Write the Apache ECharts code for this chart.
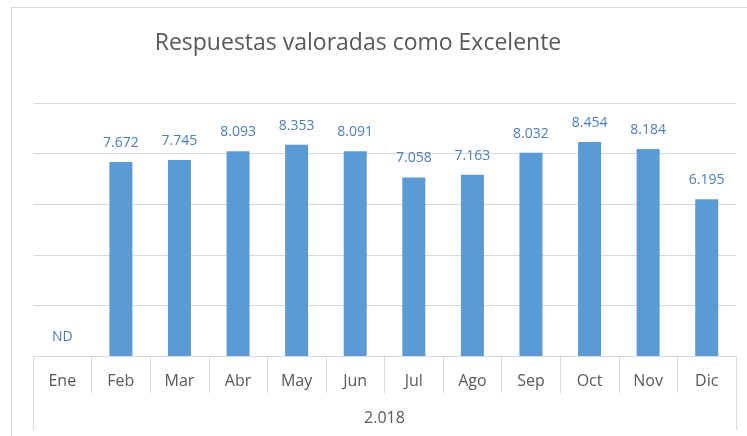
<!DOCTYPE html>
<html>
<head>
<meta charset="utf-8">
<script src="https://cdn.jsdelivr.net/npm/echarts@6/dist/echarts.min.js"></script>
<style>
  html, body { margin: 0; padding: 0; background: #fff; }
  .com-container { position: relative; width: 747px; height: 436px; overflow: hidden; }
  .frame { position: absolute; left: 11px; top: 7px; width: 760px; height: 460px; border: 1px solid #d9d9d9; box-sizing: border-box; }
  .com-chart { position: absolute; left: 0; top: 0; width: 747px; height: 436px; }
</style>
</head>
<body>
<div class="com-container">
  <div class="frame"></div>
  <div class="com-chart" id="chart"></div>
</div>
<script>
// meses y valores (null = sin dato, se muestra "ND")
const months = ['Ene', 'Feb', 'Mar', 'Abr', 'May', 'Jun', 'Jul', 'Ago', 'Sep', 'Oct', 'Nov', 'Dic']
const values = [null, 7672, 7745, 8093, 8353, 8091, 7058, 7163, 8032, 8454, 8184, 6195]
const years = ['2018']

// separador de miles con punto
const fmtNum = v => String(v).replace(/\B(?=(\d{3})+(?!\d))/g, '.')

const seriesData = values.map(v => {
  if (v === null) {
    return { value: 0, label: { formatter: 'ND' } }
  }
  return v
})

const chartInstance = echarts.init(document.getElementById('chart'))
const option = {
  animation: false,
  textStyle: { fontFamily: 'Open Sans' },
  title: {
    text: 'Respuestas valoradas como Excelente',
    left: 353,
    textAlign: 'center',
    top: 27,
    textStyle: { fontSize: 23, fontWeight: 'normal', color: '#595959', fontFamily: 'Open Sans' }
  },
  grid: { left: 33, right: 11, top: 103, bottom: 80 },
  xAxis: [
    {
      type: 'category',
      data: months,
      position: 'bottom',
      axisLine: { lineStyle: { color: '#d9d9d9' } },
      axisTick: { show: true, interval: 0, length: 37, lineStyle: { color: '#d9d9d9' } },
      axisLabel: { interval: 0, margin: 17, fontSize: 16, color: '#595959' }
    },
    {
      type: 'category',
      data: years.map(fmtNum),
      position: 'bottom',
      axisLine: { show: false },
      axisTick: { show: true, length: 74, lineStyle: { color: '#d9d9d9' } },
      axisLabel: { margin: 54, fontSize: 16, color: '#595959' }
    }
  ],
  yAxis: {
    type: 'value',
    min: 0,
    max: 10000,
    interval: 2000,
    axisLabel: { show: false },
    axisLine: { show: false },
    axisTick: { show: false },
    splitLine: { lineStyle: { color: '#d9d9d9' } }
  },
  series: [
    {
      type: 'bar',
      xAxisIndex: 0,
      data: seriesData,
      barWidth: 23,
      itemStyle: { color: '#5b9bd5' },
      label: {
        show: true,
        position: 'top',
        distance: 12,
        fontSize: 14,
        color: '#4a7ebb',
        formatter: p => fmtNum(p.value)
      }
    }
  ]
}
chartInstance.setOption(option)
</script>
</body>
</html>
